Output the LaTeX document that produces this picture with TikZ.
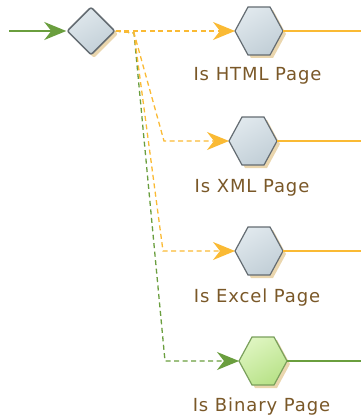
\documentclass[tikz,border=0pt]{standalone}
\usepackage{fontspec}
\setmainfont{DejaVu Sans}
\newfontfamily\lblfont[LetterSpace=5]{DejaVu Sans}
\usetikzlibrary{arrows.meta,shapes.geometric}
\definecolor{flowgreen}{RGB}{106,158,62}
\definecolor{floworange}{RGB}{250,186,52}
\definecolor{shadowtan}{RGB}{234,214,174}
\definecolor{lblbrown}{RGB}{122,88,40}
\definecolor{nodegray}{RGB}{100,108,114}
\definecolor{hexlight}{RGB}{224,232,237}
\definecolor{hexdark}{RGB}{194,207,215}
\definecolor{grnlight}{RGB}{222,245,192}
\definecolor{grndark}{RGB}{184,226,136}
\definecolor{grnborder}{RGB}{122,160,92}
\newcommand{\hexshape}[2]{({#1-24},{#2}) -- ({#1-11},{#2-24}) -- ({#1+11},{#2-24}) -- ({#1+24},{#2}) -- ({#1+11},{#2+24}) -- ({#1-11},{#2+24}) -- cycle}
\begin{document}
\begin{tikzpicture}[x=1pt,y=-1pt,
  anchorbox/.style={rectangle,draw=none,minimum width=48pt,minimum height=48pt,inner sep=0pt,outer sep=0pt},
  lbl/.style={anchor=base,text=lblbrown,font=\lblfont\fontsize{18}{20}\selectfont,inner sep=0pt},
  tip/.style={-{Stealth[length=22pt,width=18pt,inset=7pt]}},
  dashline/.style={dash pattern=on 5pt off 3.5pt,line width=1.3pt},
  outline/.style={line width=1.4pt},
  hexgray/.style={draw=nodegray,line width=1.2pt,top color=hexlight,bottom color=hexdark,shading angle=30},
  hexgreen/.style={draw=grnborder,line width=1.2pt,top color=grnlight,bottom color=grndark,shading angle=30},
  decbox/.style={diamond,aspect=1,minimum width=48pt,minimum height=48pt,inner sep=0pt,rounded corners=2pt},
]
\useasboundingbox (0,0) rectangle (361,417);
% decision
\node[decbox,fill=shadowtan] (decshadow) at (94,34) {};
\node[decbox,draw=nodegray,line width=1.5pt,top color=hexlight,bottom color=hexdark,shading angle=30] (dec) at (91,31) {};
% hexagon shadows and shapes
\fill[shadowtan] \hexshape{262}{34};
\fill[shadowtan] \hexshape{256}{144};
\fill[shadowtan] \hexshape{262}{254};
\fill[shadowtan] \hexshape{266}{364};
\path[hexgray] \hexshape{259}{31};
\path[hexgray] \hexshape{253}{141};
\path[hexgray] \hexshape{259}{251};
\path[hexgreen] \hexshape{263}{361};
\node[anchorbox] (html) at (259,31) {};
\node[anchorbox] (xml) at (253,141) {};
\node[anchorbox] (excel) at (259,251) {};
\node[anchorbox] (binary) at (263,361) {};
% labels
\node[lbl] (htmllbl) at (257.5,81) {Is HTML Page};
\node[lbl] (xmllbl) at (252,192) {Is XML Page};
\node[lbl] (excellbl) at (257,302) {Is Excel Page};
\node[lbl] (binarylbl) at (261.5,411.5) {Is Binary Page};
% connectors
\coordinate (start) at (9,31);
\coordinate (split) at (134,33);
\coordinate (bendxml) at (164,141);
\coordinate (bendexcel) at (163,251);
\coordinate (bendbin) at (165,361);
\coordinate (endhtml) at (361,31);
\coordinate (endxml) at (361,141);
\coordinate (endexcel) at (361,251);
\coordinate (endbin) at (361,361);
\draw[flowgreen,line width=1.5pt,tip] (start) -- (dec.west);
\draw[flowgreen,dashline,tip] (dec.east) -- (split) -- (bendbin) -- (binary.west);
\draw[floworange,dashline,tip] (dec.east) -- (split) -- (bendexcel) -- (excel.west);
\draw[floworange,dashline,tip] (dec.east) -- (split) -- (bendxml) -- (xml.west);
\draw[floworange,dashline,tip] (dec.east) -- (html.west);
\draw[floworange,outline] (html.east) -- (endhtml);
\draw[floworange,outline] (xml.east) -- (endxml);
\draw[floworange,outline] (excel.east) -- (endexcel);
\draw[flowgreen,outline] (binary.east) -- (endbin);
\end{tikzpicture}
\end{document}
